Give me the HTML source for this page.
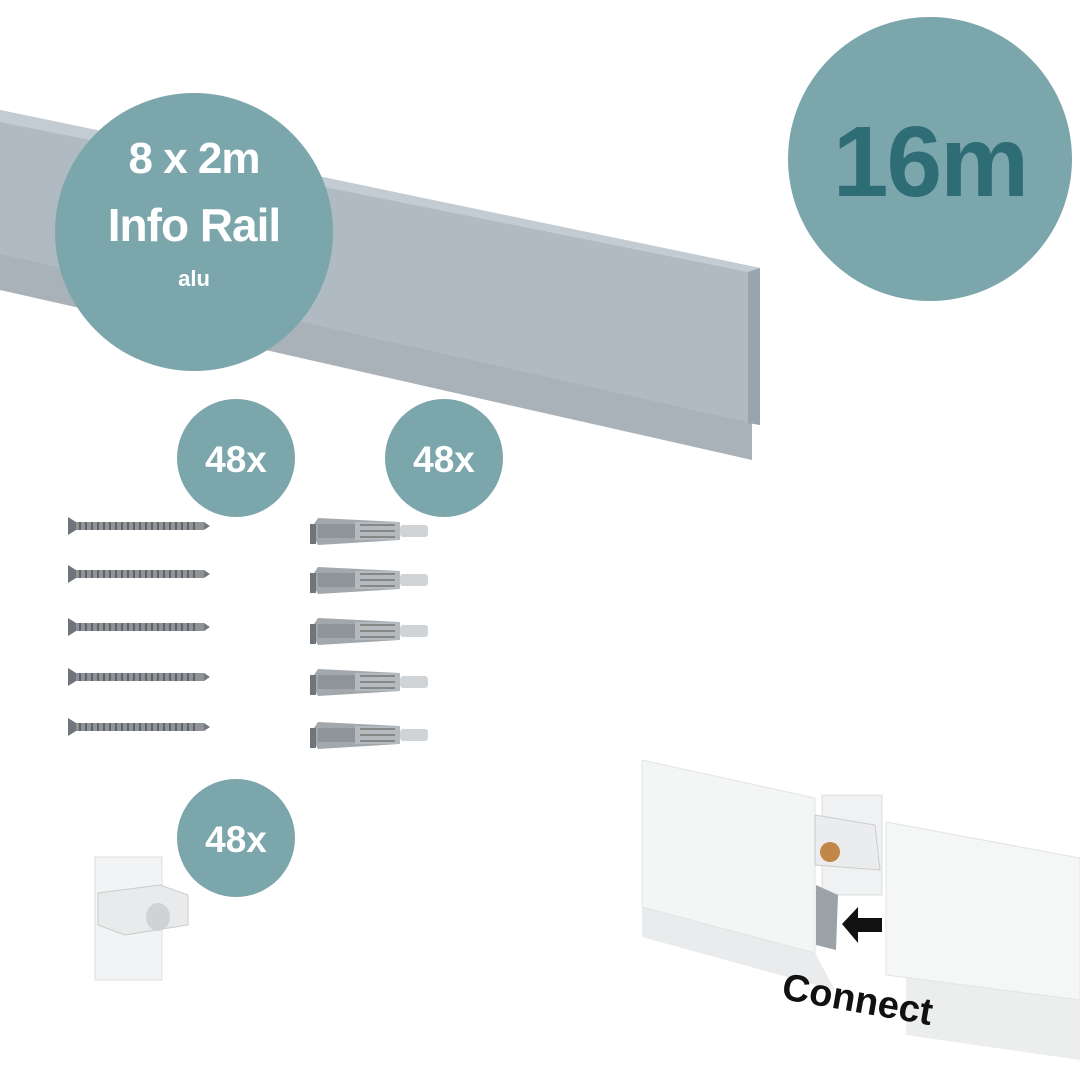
<!DOCTYPE html>
<html><head><style>
body{margin:0;background:#fff;}
svg{display:block}
text{font-family:"Liberation Sans",sans-serif;font-weight:bold}
</style></head><body>
<svg width="1080" height="1080" viewBox="0 0 1080 1080">
<!-- rail -->
<polygon points="0,250 752,420 752,460 0,290" fill="#a9b1b9"/>
<polygon points="0,110 760,268 760,425 0,254" fill="#b0bac3"/>
<polygon points="0,110 760,268 748,272 0,122" fill="#c3ccd3"/>
<polygon points="748,272 760,268 760,425 748,423" fill="#9aa4ad"/>
<!-- circles -->
<circle cx="194" cy="232" r="139" fill="#7ba6ab"/>
<text x="194" y="173" font-size="44" fill="#fff" text-anchor="middle" letter-spacing="-1">8 x 2m</text>
<text x="194" y="241" font-size="46" fill="#fff" text-anchor="middle" letter-spacing="-1">Info Rail</text>
<text x="194" y="286" font-size="22" fill="#fff" text-anchor="middle">alu</text>
<circle cx="930" cy="159" r="142" fill="#7ba6ab"/>
<text x="930" y="196" font-size="100" fill="#2e6d76" text-anchor="middle" letter-spacing="-2">16m</text>
<circle cx="236" cy="458" r="59" fill="#7ba6ab"/>
<text x="236" y="472" font-size="37" fill="#fff" text-anchor="middle">48x</text>
<circle cx="444" cy="458" r="59" fill="#7ba6ab"/>
<text x="444" y="472" font-size="37" fill="#fff" text-anchor="middle">48x</text>
<circle cx="236" cy="838" r="59" fill="#7ba6ab"/>
<text x="236" y="852" font-size="37" fill="#fff" text-anchor="middle">48x</text>
<!-- screws -->
<g id="s">
<polygon points="68,517 76,522 76,530 68,535" fill="#6f757a"/>
<rect x="76" y="522" width="128" height="8" fill="#8d9398"/>
<path d="M80,522 l0,8 M86,522 l0,8 M92,522 l0,8 M98,522 l0,8 M104,522 l0,8 M110,522 l0,8 M116,522 l0,8 M122,522 l0,8 M128,522 l0,8 M134,522 l0,8 M140,522 l0,8 M146,522 l0,8 M152,522 l0,8 M158,522 l0,8 M164,522 l0,8 M170,522 l0,8 M176,522 l0,8 M182,522 l0,8 M188,522 l0,8 M194,522 l0,8" stroke="#555" stroke-width="1.5"/>
<polygon points="204,522 210,526 204,530" fill="#777"/>
</g>
<use href="#s" y="48"/><use href="#s" y="101"/><use href="#s" y="151"/><use href="#s" y="201"/>
<!-- anchors -->
<g id="a">
<polygon points="310,530 318,518 400,522 400,540 318,545" fill="#a3a8ad"/>
<rect x="318" y="524" width="80" height="14" fill="#8e9499"/>
<rect x="355" y="522" width="45" height="18" fill="#b5babe"/>
<path d="M360,525 h35 M360,531 h35 M360,537 h35" stroke="#777" stroke-width="1.5"/>
<rect x="400" y="525" width="28" height="12" rx="3" fill="#d0d4d7"/>
<rect x="310" y="524" width="6" height="20" fill="#6f757a"/>
</g>
<use href="#a" y="49"/><use href="#a" y="100"/><use href="#a" y="151"/><use href="#a" y="204"/>
<!-- clip -->
<polygon points="95,857 162,857 162,980 95,980" fill="#f2f3f4" stroke="#ddd"/>
<polygon points="98,893 160,885 188,895 188,925 125,935 98,925" fill="#e8eaec" stroke="#ccc"/>
<ellipse cx="158" cy="917" rx="12" ry="14" fill="#cfd3d6"/>
<!-- connect image -->
<rect x="822" y="795" width="60" height="100" fill="#f0f1f2" stroke="#dcdedf"/>
<polygon points="642,907 815,953 835,990 642,937" fill="#e9ebec"/>
<polygon points="642,760 815,798 815,953 642,907" fill="#f4f5f5" stroke="#e2e4e5"/>
<polygon points="815,815 875,825 880,870 815,865" fill="#eaecee" stroke="#ccc"/>
<circle cx="830" cy="852" r="10" fill="#c28747"/>
<polygon points="816,885 838,895 836,950 816,945" fill="#9da2a6"/>
<polygon points="906,975 1080,1000 1080,1060 906,1035" fill="#eceeee"/>
<polygon points="886,822 1080,858 1080,1000 886,975" fill="#f5f6f6" stroke="#e2e4e5"/>
<polygon points="842,924 858,907 858,918 882,918 882,932 858,932 858,943" fill="#111"/>
<text x="778" y="1012" font-size="38" fill="#111" transform="rotate(10 855 1020)">Connect</text>
</svg>
</body></html>
